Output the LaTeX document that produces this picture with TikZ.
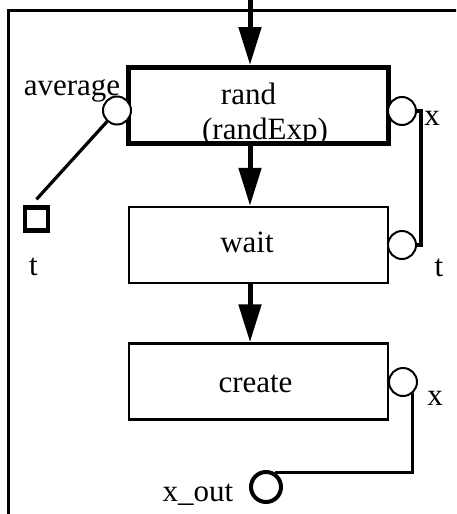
\documentclass[tikz,border=0pt]{standalone}
\usepackage{fontspec}
\setmainfont{Liberation Serif}
\usetikzlibrary{arrows.meta}

\begin{document}
\begin{tikzpicture}[x=0.5pt,y=-0.5pt,
    font=\fontsize{15.5}{17}\selectfont,
    box/.style={draw,rectangle,minimum width=129.75pt,minimum height=38pt,inner sep=0pt,line width=1.2pt},
    port/.style={draw,circle,fill=white,minimum size=14pt,inner sep=0pt,line width=1pt},
    wire/.style={line width=1.6pt},
    flow/.style={line width=2.5pt,-{Triangle[length=19pt,width=11pt]}},
    txt/.style={anchor=base,inner sep=0pt}]
  \clip (0,0) rectangle (456,514);
  \draw[line width=1.5pt] (8.5,530) -- (8.5,10) -- (470,10);
  % the three blocks
  \node[box,line width=2.5pt] (rand) at (258.5,105.5) {};
  \node[box] (wait) at (258.5,245) {};
  \node[box] (create) at (258.5,381.5) {};
  \node[txt] (randtxt) at (248.5,104) {rand};
  \node[txt] (randexp) at (265,139) {(randExp)};
  \node[txt] (waittxt) at (247,252) {wait};
  \node[txt] (createtxt) at (255.5,392) {create};
  % ports
  \node[port] (avg) at (117,110.5) {};
  \node[port] (xr) at (402,111) {};
  \node[port] (tw) at (402,245) {};
  \node[port] (xc) at (403,382) {};
  \node[port,minimum size=15pt,line width=2pt] (xout) at (266,487) {};
  \node[draw,rectangle,minimum size=11.5pt,inner sep=0pt,line width=2.2pt] (sq) at (36.5,219) {};
  \node[txt] (avglbl) at (72,95) {average};
  \node[txt] (xrlbl) at (432,125) {x};
  \node[txt] (twlbl) at (439,276) {t};
  \node[txt] (xclbl) at (435,405) {x};
  \node[txt] (sqlbl) at (33.5,275) {t};
  \node[txt] (xoutlbl) at (198,501) {x\_out};
  % control flow
  \coordinate (in) at (250,-5);
  \draw[flow] (in) -- ([xshift=-4.25pt]rand.north);
  \draw[flow] ([xshift=-4.25pt]rand.south) -- ([xshift=-4.25pt]wait.north);
  \draw[flow] ([xshift=-4.25pt]wait.south) -- ([xshift=-4.25pt]create.north);
  % data links
  \draw[wire] (avg.228) -- ([yshift=3pt]sq.north);
  \draw[wire] (xr.east) -- ++(2pt,0) |- (tw.east);
  \draw[wire] (xc.-50) |- (xout.60);
\end{tikzpicture}
\end{document}
